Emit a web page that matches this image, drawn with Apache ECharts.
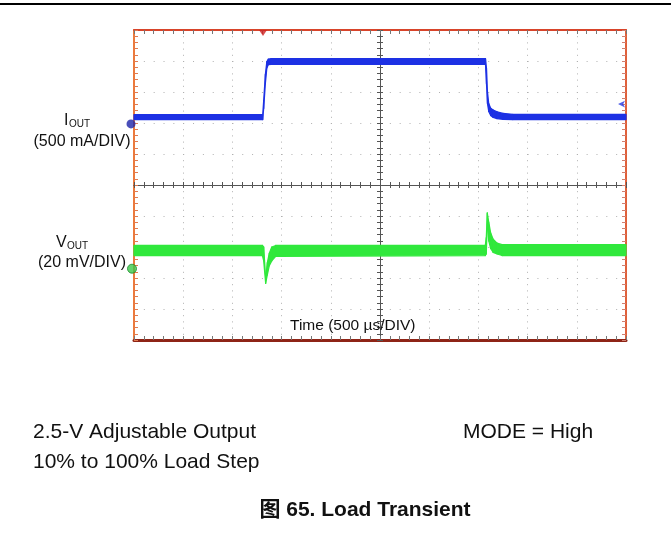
<!DOCTYPE html>
<html>
<head>
<meta charset="utf-8">
<title>Load Transient</title>
<script src="https://cdn.jsdelivr.net/npm/echarts@6/dist/echarts.min.js"></script>
<style>
html, body { margin: 0; padding: 0; background: #fff; }
#chart { width: 671px; height: 533px; }
</style>
</head>
<body>
<div id="chart"></div>
<script>
// 示波器刻度: 时间轴以屏幕中心为 0, 500 µs/DIV, 纵向 10 格
var TIME_MIN = -2500;
var TIME_MAX = 2500;
var TIME_DIV = 500;
var DIV_MIN = -5;
var DIV_MAX = 5;

// 通道设置
var IOUT_SCALE = 500;   // mA/DIV
var VOUT_SCALE = 20;    // mV/DIV
var IOUT_ZERO = 1.97;   // 通道零点 (格)
var VOUT_ZERO = -2.7;

// I_OUT 波形包络 (mA), 时间 µs
var ioutTime = [-2500, -1192, -1182, -1165, -1150, -1135, -1105, 1072, 1082, 1092, 1105, 1125, 1150, 1190, 1250, 1350, 2500];
var ioutLow  = [70, 70, 250, 650, 900, 955, 960, 960, 650, 330, 200, 135, 105, 85, 75, 70, 70];
var ioutHigh = [150, 150, 380, 800, 1005, 1045, 1055, 1055, 900, 520, 330, 255, 225, 195, 170, 155, 155];

// V_OUT 波形包络 (mV, 相对通道零点)
var voutTime = [-2500, -1195, -1182, -1162, -1145, -1125, -1100, -1060, 1070, 1080, 1090, 1105, 1125, 1150, 1190, 1240, 2500];
var voutLow  = [8.5, 8.5, 5, -9.5, -4, 2, 5, 8, 8.5, 9.5, 28, 18, 13, 10.5, 9.5, 8.5, 8.5];
var voutHigh = [15, 15, 14, -6, 4, 10, 14, 15, 15, 20, 36, 30, 23, 19, 16.5, 15.5, 15.5];

// 触发
var triggerTime = -1189;
var triggerLevel = 320; // mA

(function() {
    var blue = '#1d31e4';
    var green = '#30e83c';
    var font = '"Liberation Sans", Arial, sans-serif';

    // [时间, 下沿(格), 上沿(格)]
    function envelope(time, low, high, zero, scale) {
        return time.map(function(t, i) {
            return [t, zero + low[i] / scale, zero + high[i] / scale];
        });
    }

    // 相邻两点之间画一个四边形, 拼成噪声带
    function bandRender(color) {
        return function(params, api) {
            var i = params.dataIndexInside;
            if (i >= params.dataInsideLength - 1) return;
            var a0 = api.coord([api.value(0, i), api.value(1, i)]);
            var a1 = api.coord([api.value(0, i + 1), api.value(1, i + 1)]);
            var b1 = api.coord([api.value(0, i + 1), api.value(2, i + 1)]);
            var b0 = api.coord([api.value(0, i), api.value(2, i)]);
            return {
                type: 'polygon',
                shape: { points: [a0, a1, b1, b0] },
                style: { fill: color, stroke: color, lineWidth: 1.2, lineJoin: 'round' }
            };
        };
    }

    function xAxisCfg(extra) {
        var a = {
            type: 'value', min: TIME_MIN, max: TIME_MAX, interval: TIME_DIV,
            axisLabel: { show: false },
            axisTick: { show: true, inside: true, length: 4, lineStyle: { color: '#777' } },
            minorTick: { show: true, splitNumber: 5, length: 4, lineStyle: { color: '#777' } },
            splitLine: { show: false },
            minorSplitLine: { show: false }
        };
        return Object.assign(a, extra);
    }
    function yAxisCfg(extra) {
        var a = {
            type: 'value', min: DIV_MIN, max: DIV_MAX, interval: 1,
            axisLabel: { show: false },
            axisTick: { show: true, inside: true, length: 4, lineStyle: { color: '#777' } },
            minorTick: { show: true, splitNumber: 5, length: 4, lineStyle: { color: '#777' } },
            splitLine: { show: false },
            minorSplitLine: { show: false }
        };
        return Object.assign(a, extra);
    }

    var myChart = echarts.init(document.getElementById('chart'), null, { renderer: 'canvas' });

    var option = {
        animation: false,
        backgroundColor: '#fff',
        grid: { left: 134, top: 30, width: 492, height: 310, containLabel: false },
        xAxis: [
            xAxisCfg({
                position: 'bottom',
                axisLine: { onZero: false, lineStyle: { color: '#8e2416', width: 3 } },
                splitLine: { show: true, lineStyle: { color: '#b0b0b0', width: 1, type: [1, 5.2] } }
            }),
            xAxisCfg({
                position: 'top',
                axisLine: { onZero: false, lineStyle: { color: '#d8442a', width: 2 } }
            }),
            // 中心横线 (两侧刻度)
            xAxisCfg({
                axisLine: { onZero: true, onZeroAxisIndex: 0, lineStyle: { color: '#555', width: 1 } },
                axisTick: { show: true, inside: true, length: 3, lineStyle: { color: '#555' } },
                minorTick: { show: true, splitNumber: 5, length: 3, lineStyle: { color: '#555' } }
            }),
            xAxisCfg({
                axisLine: { onZero: true, onZeroAxisIndex: 0, lineStyle: { color: '#555', width: 1 } },
                axisTick: { show: true, inside: false, length: 3, lineStyle: { color: '#555' } },
                minorTick: { show: true, splitNumber: 5, length: 3, lineStyle: { color: '#555' } }
            })
        ],
        yAxis: [
            yAxisCfg({
                position: 'left',
                axisLine: { onZero: false, lineStyle: { color: '#ec7a3c', width: 2 } },
                axisTick: { show: true, inside: true, length: 4, lineStyle: { color: '#e07a50' } },
                minorTick: { show: true, splitNumber: 5, length: 4, lineStyle: { color: '#e07a50' } },
                splitLine: { show: true, lineStyle: { color: '#b0b0b0', width: 1, type: [1, 8.84] } }
            }),
            yAxisCfg({
                position: 'right',
                axisLine: { onZero: false, lineStyle: { color: '#e0603a', width: 2 } },
                axisTick: { show: true, inside: true, length: 4, lineStyle: { color: '#d08070' } },
                minorTick: { show: true, splitNumber: 5, length: 4, lineStyle: { color: '#d08070' } }
            }),
            // 中心竖线
            yAxisCfg({
                axisLine: { onZero: true, onZeroAxisIndex: 0, lineStyle: { color: '#555', width: 1 } },
                axisTick: { show: true, inside: true, length: 3, lineStyle: { color: '#555' } },
                minorTick: { show: true, splitNumber: 5, length: 3, lineStyle: { color: '#555' } }
            }),
            yAxisCfg({
                axisLine: { onZero: true, onZeroAxisIndex: 0, lineStyle: { color: '#555', width: 1 } },
                axisTick: { show: true, inside: false, length: 3, lineStyle: { color: '#555' } },
                minorTick: { show: true, splitNumber: 5, length: 3, lineStyle: { color: '#555' } }
            })
        ],
        series: [
            {
                type: 'custom', name: 'IOUT', z: 4,
                data: envelope(ioutTime, ioutLow, ioutHigh, IOUT_ZERO, IOUT_SCALE),
                encode: { x: 0, y: [1, 2] },
                renderItem: bandRender(blue)
            },
            {
                type: 'custom', name: 'VOUT', z: 4,
                data: envelope(voutTime, voutLow, voutHigh, VOUT_ZERO, VOUT_SCALE),
                encode: { x: 0, y: [1, 2] },
                renderItem: bandRender(green)
            },
            {
                // 通道零点 / 触发标记
                type: 'scatter', name: 'markers', z: 6, silent: true,
                data: [
                    { value: [TIME_MIN, IOUT_ZERO], symbol: 'circle', symbolSize: 9, symbolOffset: [-3, 0],
                      itemStyle: { color: '#1d23a8' } },
                    { value: [TIME_MIN, VOUT_ZERO], symbol: 'circle', symbolSize: 9, symbolOffset: [-2, 0],
                      itemStyle: { color: '#3cc84a', borderColor: '#1b8a2a', borderWidth: 1 } },
                    { value: [triggerTime, DIV_MAX], symbol: 'triangle', symbolRotate: 180, symbolSize: [8, 6],
                      symbolOffset: [0, 3], itemStyle: { color: '#d02020' } },
                    { value: [TIME_MAX, IOUT_ZERO + triggerLevel / IOUT_SCALE], symbol: 'arrow', symbolRotate: 90,
                      symbolSize: [5, 7], symbolOffset: [-8, 0], itemStyle: { color: '#2538e0' } }
                ]
            }
        ],
        graphic: [
            { type: 'rect', shape: { x: 0, y: 3, width: 671, height: 2 }, style: { fill: '#000' } },
            // 通道标签
            { type: 'text', x: 64, y: 121, style: { text: 'I', font: '16px ' + font, fill: '#111', verticalAlign: 'middle' } },
            { type: 'text', x: 69, y: 124, style: { text: 'OUT', font: '10px ' + font, fill: '#111', verticalAlign: 'middle' } },
            { type: 'text', x: 82, y: 142, style: { text: '(500 mA/DIV)', font: '16px ' + font, fill: '#111', align: 'center', verticalAlign: 'middle' } },
            { type: 'text', x: 56, y: 243, style: { text: 'V', font: '16px ' + font, fill: '#111', verticalAlign: 'middle' } },
            { type: 'text', x: 67, y: 246, style: { text: 'OUT', font: '10px ' + font, fill: '#111', verticalAlign: 'middle' } },
            { type: 'text', x: 82, y: 263, style: { text: '(20 mV/DIV)', font: '16px ' + font, fill: '#111', align: 'center', verticalAlign: 'middle' } },
            { type: 'text', x: 290, y: 326, z: 10, style: { text: 'Time (500 µs/DIV)', font: '15.5px ' + font, fill: '#111', verticalAlign: 'middle' } },
            // 说明文字
            { type: 'text', x: 33, y: 432, style: { text: '2.5-V Adjustable Output', font: '21px ' + font, fill: '#111', verticalAlign: 'middle' } },
            { type: 'text', x: 33, y: 462, style: { text: '10% to 100% Load Step', font: '21px ' + font, fill: '#111', verticalAlign: 'middle' } },
            { type: 'text', x: 463, y: 432, style: { text: 'MODE = High', font: '21px ' + font, fill: '#111', verticalAlign: 'middle' } },
            { type: 'text', x: 365, y: 510, style: { text: '图 65. Load Transient', font: 'bold 21px "Liberation Sans", "Noto Sans CJK SC", Arial, sans-serif', fill: '#111', align: 'center', verticalAlign: 'middle' } }
        ]
    };

    myChart.setOption(option);
    window.addEventListener('resize', function() {
        myChart.resize();
    });
})();
</script>
</body>
</html>
